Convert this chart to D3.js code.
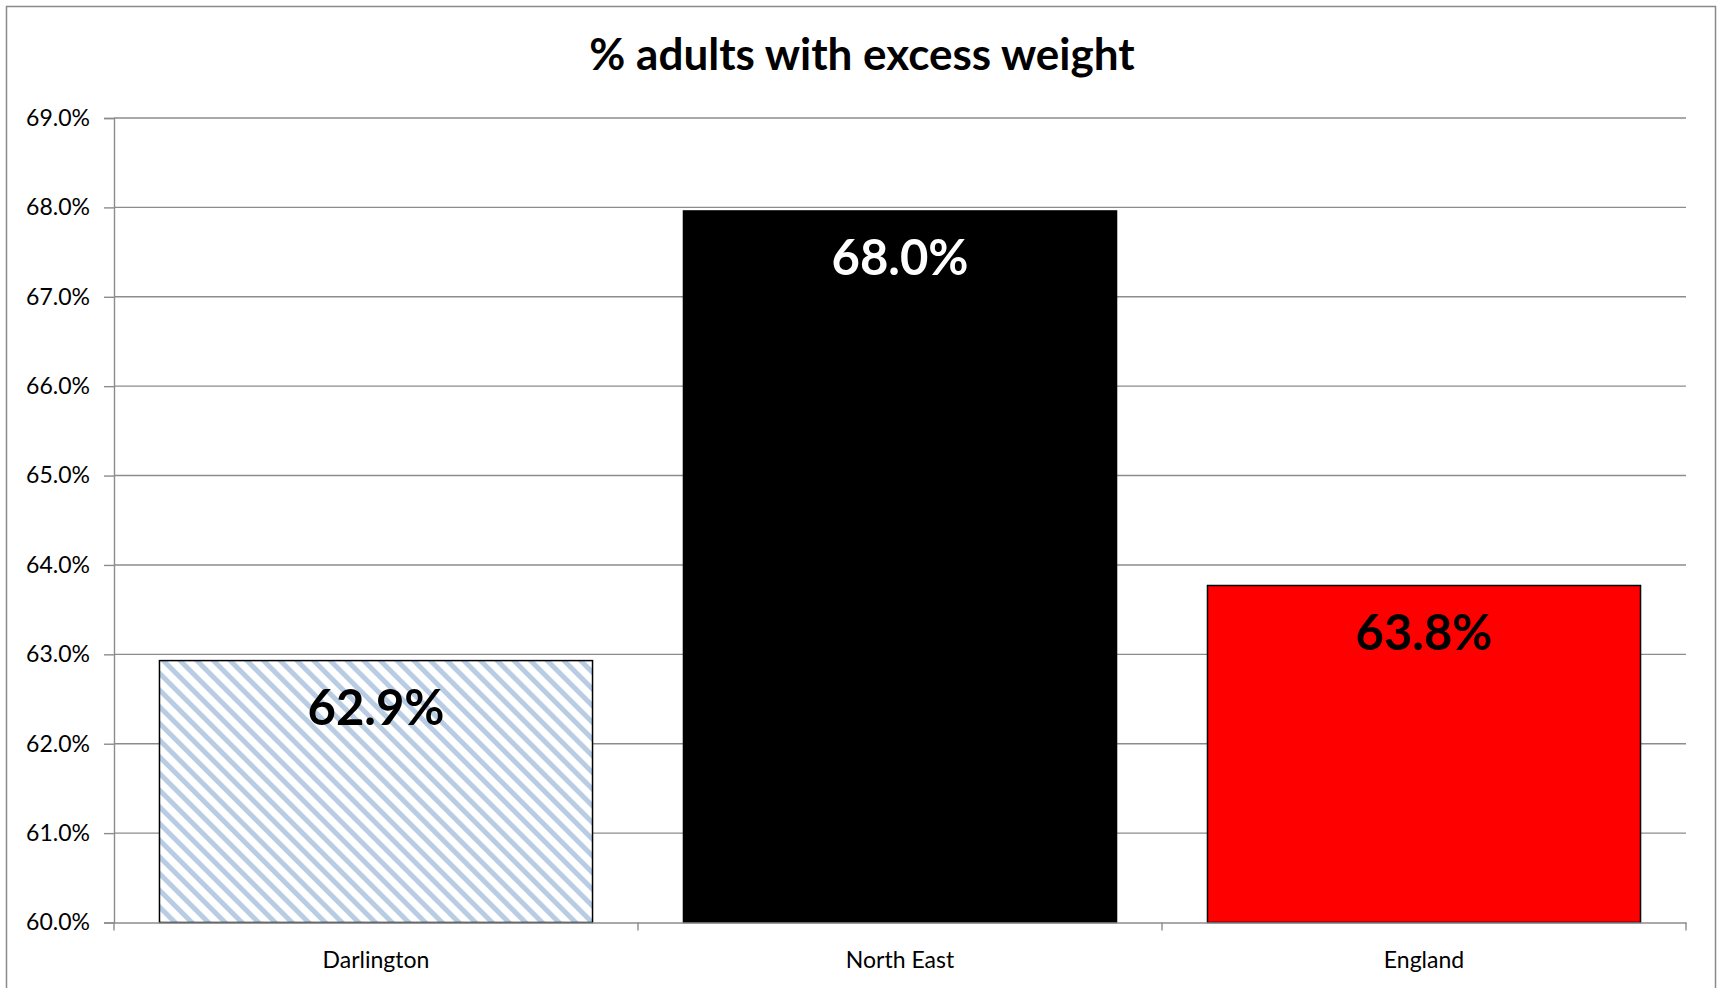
<!DOCTYPE html>
<html><head><meta charset="utf-8">
<script src="https://cdn.jsdelivr.net/npm/d3@7"></script>
<style>body{margin:0;background:#fff;} svg{display:block;}</style>
</head><body>
<script>
const categories = ["Darlington", "North East", "England"];
const values = [62.93, 67.96, 63.77];
const valueLabels = ["62.9%", "68.0%", "63.8%"];
const yTicks = [60, 61, 62, 63, 64, 65, 66, 67, 68, 69];
const title = "% adults with excess weight";

(function () {
const W = 1721, H = 988;
const font = "Lato, 'Open Sans', sans-serif";
const svg = d3.select("body").append("svg").attr("width", W).attr("height", H);

const defs = svg.append("defs");
const P = 11.8;
const pat = defs.append("pattern").attr("id", "stripes").attr("patternUnits", "userSpaceOnUse")
  .attr("width", P).attr("height", P).attr("patternTransform", "rotate(-45)");
pat.append("rect").attr("width", P).attr("height", P).attr("fill", "#fff");
pat.append("rect").attr("x", 0).attr("width", 5).attr("height", P).attr("fill", "#b8cce4");

// outer chart border
svg.append("rect").attr("x", 6.5).attr("y", 6.5).attr("width", 1709).attr("height", 1000)
  .attr("fill", "none").attr("stroke", "#8a8a8a").attr("stroke-width", 1.5);

const mLeft = 114, mRight = 1686, mTop = 118, mBottom = 922.5;
const x = d3.scaleBand().domain(categories).range([mLeft, mRight]).padding(0);
const y = d3.scaleLinear().domain([60, 69]).range([mBottom, mTop]);

// gridlines
svg.append("g").selectAll("line").data(yTicks.slice(1)).join("line")
  .attr("x1", mLeft).attr("x2", mRight).attr("y1", d => y(d)).attr("y2", d => y(d))
  .attr("stroke", "#8c8c8c").attr("stroke-width", 1.4);

// y axis
const yAxis = svg.append("g").attr("transform", `translate(${mLeft},0)`)
  .call(d3.axisLeft(y).tickValues(yTicks).tickSize(10).tickPadding(14).tickFormat(d => d.toFixed(1) + "%"));
yAxis.select(".domain").attr("stroke", "#8c8c8c").attr("stroke-width", 1.4);
yAxis.selectAll(".tick line").attr("stroke", "#8c8c8c").attr("stroke-width", 1.4);
yAxis.selectAll(".tick text").attr("font-family", font).attr("font-size", 23).attr("fill", "#000");

// bars
const bw = x.bandwidth() / 1.21;
const fills = ["url(#stripes)", "#000000", "#ff0000"];
svg.append("g").selectAll("rect").data(categories).join("rect")
  .attr("x", d => x(d) + (x.bandwidth() - bw) / 2)
  .attr("y", (d, i) => y(values[i]))
  .attr("width", bw)
  .attr("height", (d, i) => y(60) - y(values[i]))
  .attr("fill", (d, i) => fills[i])
  .attr("stroke", "#000").attr("stroke-width", 1.5);

// x axis
const xAxis = svg.append("g").attr("transform", `translate(0,${mBottom})`)
  .call(d3.axisBottom(x).tickSize(0).tickPadding(29));
xAxis.select(".domain").attr("stroke", "#8c8c8c").attr("stroke-width", 1.4);
xAxis.selectAll(".tick text").attr("font-family", font).attr("font-size", 23).attr("fill", "#000");
svg.append("g").selectAll("line").data(d3.range(categories.length + 1)).join("line")
  .attr("x1", i => mLeft + i * x.bandwidth()).attr("x2", i => mLeft + i * x.bandwidth())
  .attr("y1", mBottom).attr("y2", mBottom + 8)
  .attr("stroke", "#8c8c8c").attr("stroke-width", 1.4);

// value labels
svg.append("g").selectAll("text").data(categories).join("text")
  .attr("x", d => x(d) + x.bandwidth() / 2)
  .attr("y", (d, i) => y(values[i]) + 64)
  .attr("text-anchor", "middle")
  .attr("font-family", font).attr("font-weight", "bold").attr("font-size", 49)
  .attr("fill", (d, i) => i === 1 ? "#fff" : "#000")
  .text((d, i) => valueLabels[i]);

// title
svg.append("text").attr("x", 862).attr("y", 70).attr("text-anchor", "middle")
  .attr("font-family", font).attr("font-weight", "bold").attr("font-size", 44)
  .text(title);
})();
</script>
</body></html>
